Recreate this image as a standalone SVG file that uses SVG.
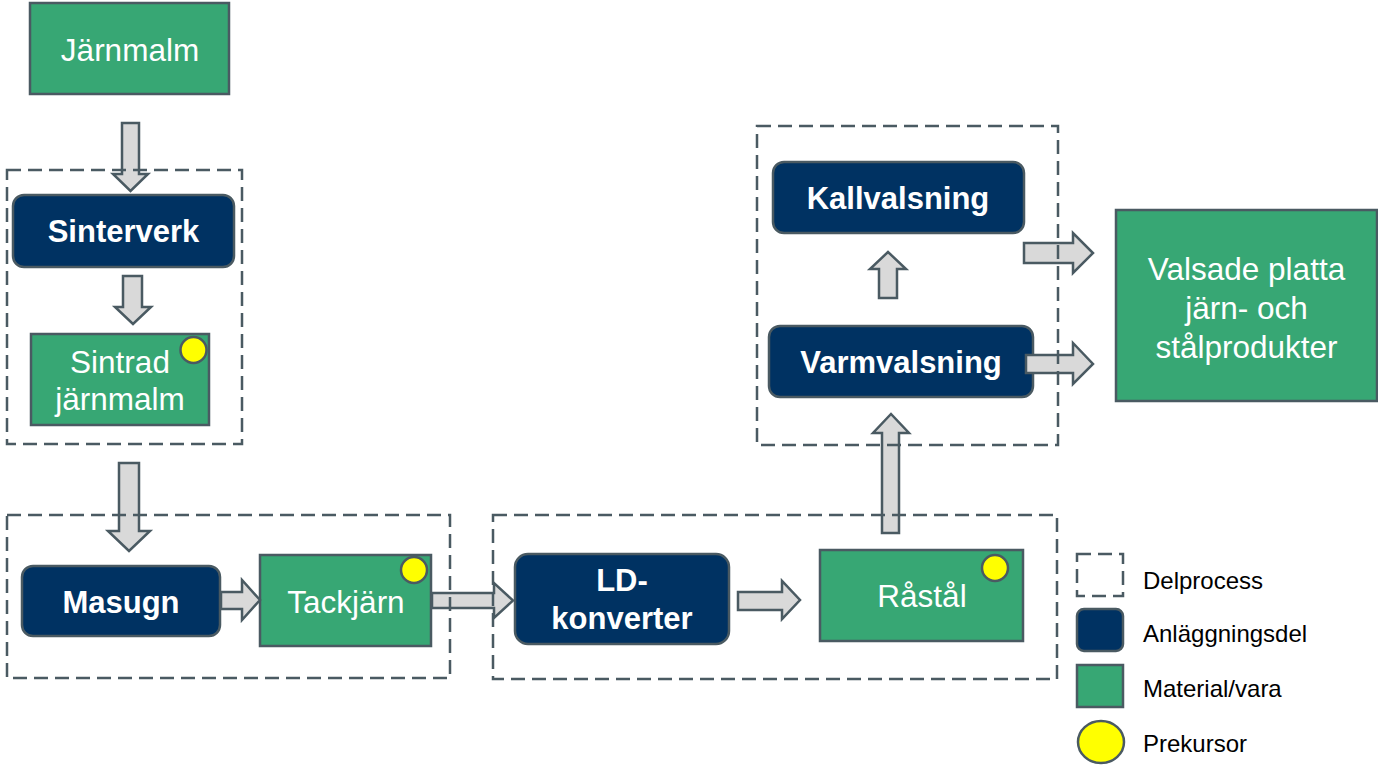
<svg xmlns="http://www.w3.org/2000/svg" width="1378" height="765" viewBox="0 0 1378 765">
<style>
.mat{fill:#37A774;stroke:#4A5A62;stroke-width:2.5}
.eq{fill:#003262;stroke:#4A5A62;stroke-width:2.5}
.pre{fill:#FFFF00;stroke:#4A5A62;stroke-width:2.5}
.sub{fill:none;stroke:#4A5A62;stroke-width:2.5;stroke-dasharray:14 7}
.arr{fill:#D9D9D9;stroke:#4A5A62;stroke-width:2.5;stroke-linejoin:miter}
.tw{font-family:"Liberation Sans",Arial,sans-serif;font-size:31.5px;fill:#FFFFFF;text-anchor:middle}
.tb{font-family:"Liberation Sans",Arial,sans-serif;font-size:31px;font-weight:bold;fill:#FFFFFF;text-anchor:middle}
.tl{font-family:"Liberation Sans",Arial,sans-serif;font-size:24px;fill:#000000}
</style>
<rect width="1378" height="765" fill="#FFFFFF"/>

<g id="jarnmalm">
<rect class="mat" x="30" y="3" width="199" height="91"/>
<text class="tw" x="130" y="61">Järnmalm</text>
</g>
<g id="sinterverk">
<rect class="eq" x="13" y="195" width="221" height="72" rx="11"/>
<text class="tb" x="123.5" y="242">Sinterverk</text>
</g>
<g id="sintrad">
<rect class="mat" x="31" y="334" width="178" height="91"/>
<text class="tw" x="120" y="373">Sintrad</text>
<text class="tw" x="120" y="410">järnmalm</text>
<circle class="pre" cx="193.5" cy="350" r="13"/>
</g>
<g id="masugn">
<rect class="eq" x="22" y="566" width="198" height="70" rx="11"/>
<text class="tb" x="121" y="613">Masugn</text>
</g>
<g id="tackjarn">
<rect class="mat" x="260" y="555" width="171" height="91"/>
<text class="tw" x="346" y="613">Tackjärn</text>
<circle class="pre" cx="414" cy="570" r="13"/>
</g>
<g id="ldkonverter">
<rect class="eq" x="515" y="554" width="214" height="90" rx="13"/>
<text class="tb" x="622" y="591">LD-</text>
<text class="tb" x="622" y="629">konverter</text>
</g>
<g id="rastal">
<rect class="mat" x="820" y="550" width="203" height="91"/>
<text class="tw" x="922" y="607">Råstål</text>
<circle class="pre" cx="995" cy="568" r="13"/>
</g>
<g id="kallvalsning">
<rect class="eq" x="773" y="162" width="251" height="71" rx="11"/>
<text class="tb" x="898" y="209">Kallvalsning</text>
</g>
<g id="varmvalsning">
<rect class="eq" x="769" y="326" width="264" height="71" rx="11"/>
<text class="tb" x="901" y="373">Varmvalsning</text>
</g>
<g id="valsade">
<rect class="mat" x="1116" y="210" width="261" height="191"/>
<text class="tw" x="1246.5" y="280">Valsade platta</text>
<text class="tw" x="1246.5" y="319">järn- och</text>
<text class="tw" x="1246.5" y="358">stålprodukter</text>
</g>

<g id="connectors">
<path class="arr" d="M122,123 H139 V174 H148 L130.5,191 L113,174 H122 Z"/>
<path class="arr" d="M123,276 H142 V307 H151 L133,324 L115,307 H123 Z"/>
<path class="arr" d="M119,463 H139 V531 H150 L129,551 L108,531 H119 Z"/>
<path class="arr" d="M221,592 H242 V580 L260,600 L242,620 V609 H221 Z"/>
<path class="arr" d="M432,593 H494 V583 L513,600.5 L494,618 V608 H432 Z"/>
<path class="arr" d="M738,592 H782 V581 L800,600 L782,619 V610 H738 Z"/>
<path class="arr" d="M882,533 V433 H873 L891,414 L909,433 H899 V533 Z"/>
<path class="arr" d="M879,298 V269 H870 L888,252 L906,269 H897 V298 Z"/>
<path class="arr" d="M1024,243 H1073 V233 L1093,253 L1073,273 V263 H1024 Z"/>
<path class="arr" d="M1026,355 H1073 V343 L1093,364 L1073,384 V373 H1026 Z"/>
</g>

<g id="delprocess-sinter"><rect class="sub" x="7" y="170" width="235" height="274"/></g>
<g id="delprocess-masugn"><rect class="sub" x="7" y="515" width="443" height="163"/></g>
<g id="delprocess-ld"><rect class="sub" x="493" y="515" width="564" height="164"/></g>
<g id="delprocess-valsning"><rect class="sub" x="757" y="126" width="301" height="319"/></g>

<g id="legend">
<rect class="sub" x="1077" y="554" width="46" height="42"/>
<text class="tl" x="1143" y="589">Delprocess</text>
<rect class="eq" x="1077" y="609" width="46" height="42" rx="7"/>
<text class="tl" x="1143" y="642">Anläggningsdel</text>
<rect class="mat" x="1077" y="665" width="46" height="42"/>
<text class="tl" x="1143" y="697">Material/vara</text>
<ellipse class="pre" cx="1101" cy="742" rx="23" ry="21"/>
<text class="tl" x="1143" y="752">Prekursor</text>
</g>
</svg>
